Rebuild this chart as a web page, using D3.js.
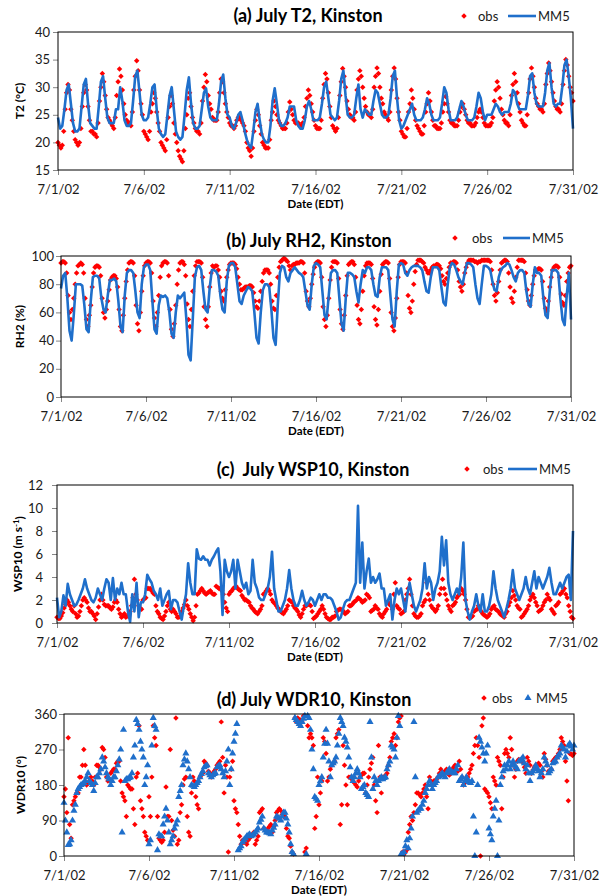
<!DOCTYPE html>
<html>
<head>
<meta charset="utf-8">
<script src="https://cdn.jsdelivr.net/npm/d3@7"></script>
<style>
  body { margin: 0; background: #fff; }
  svg { display: block; font-family: Lato, "Open Sans", sans-serif; }
</style>
</head>
<body>
<div id="chart"></div>
<script>
const width = 605;
const height = 896;

// time axis: 7/1/02 00:00 EDT to 7/31/02 00:00 EDT
const startDate = new Date(2002, 6, 1);
const endDate = new Date(2002, 6, 31);
const tickDays = [1, 6, 11, 16, 21, 26, 31];

// obs: 2-hourly samples (0,2,...,22 h per row), MM5 lines: 3-hourly (0,3,...,21 h per row)
const obsStep = 2;
const mm5LineStep = 3;
const mm5DirStep = 2;

const t2Obs = [
  [20, 19.5, 19, 19.5, 22, 26, 29, 30.5, 29.5, 26, 24, 22],
  [20.5, 20, 19.5, 20, 22.5, 26.5, 29, 30.5, 29.5, 26.5, 24, 22],
  [22, 21.5, 21.5, 21, 23.5, 27.5, 30, 32.5, 31, 28.5, 26, 24.5],
  [24, 23.5, 23, 22.5, 24.5, 28.5, 31, 33.3, 32, 29.5, 27, 25],
  [24, 23.5, 23.5, 23, 25.5, 29.5, 32, 34.8, 33, 29.5, 27, 25],
  [22, 21.5, 21, 20.5, 22, 25.5, 27, 29, 28, 25.5, 23.5, 22],
  [20, 19.5, 19, 18.5, 20.5, 24.5, 26.5, 28.5, 27, 23.5, 21.5, 20],
  [18.5, 17.5, 17, 16.5, 18.5, 22.5, 25, 28, 29, 26.5, 24.5, 23.5],
  [22.5, 22, 22, 21.5, 23.5, 27.5, 30, 32.3, 31, 28.5, 27, 26],
  [24.5, 24, 24, 24, 25.5, 29, 31.5, 31, 29, 27, 25.5, 24.5],
  [23.5, 23, 23, 22.5, 23, 24, 24.5, 24.5, 24, 23.5, 23, 22],
  [20, 19, 18.5, 17.5, 19, 22, 24, 26, 25, 23, 21.5, 20],
  [19.5, 19, 19, 19, 20.5, 24, 25.5, 27.5, 26.5, 25, 24, 23.5],
  [23, 22.5, 22.5, 22.5, 23.5, 25.5, 27.3, 26, 25, 24, 23.5, 23.5],
  [23.5, 23, 23, 23.5, 24.5, 26.5, 28, 29.5, 28.5, 27, 25.5, 24],
  [23, 22.5, 22.5, 22.5, 24, 28, 30.5, 32.5, 31.5, 29, 26.5, 24.5],
  [23, 22.5, 22, 22.5, 24.5, 28.5, 31, 33.4, 32, 30, 27.5, 26],
  [25, 24.5, 24.5, 24, 25.5, 29.5, 31.5, 33, 32, 30, 28, 26.5],
  [25.5, 25, 25, 24.5, 26, 30, 32, 33.5, 32.5, 30, 28, 27],
  [25.5, 25, 24.5, 24, 25.5, 29.5, 32, 33.5, 31.5, 28, 25.5, 24],
  [22, 21.5, 21, 21, 22.5, 25.5, 27, 29.5, 28, 26, 24, 23],
  [22.5, 22, 21.5, 21.5, 23, 25.5, 27, 29, 27.5, 25.5, 24, 23],
  [23, 22.5, 22.5, 22.5, 23.5, 25.5, 27, 28.3, 27, 25.5, 24, 23.5],
  [23.5, 23, 23, 23, 24, 25.5, 26.5, 27, 26, 25, 24, 23.5],
  [23.5, 23, 23, 23, 23.5, 24.5, 25.5, 26, 25.5, 24.5, 23.5, 23],
  [23, 23, 23, 23.5, 24.5, 27.5, 29.5, 31, 30, 28, 26, 25],
  [24, 23.5, 23.5, 23, 25, 28.5, 30.5, 32.5, 31, 29, 27, 25.5],
  [24, 23.5, 23, 23, 25, 29, 31.5, 33.5, 32, 30, 28, 27],
  [26.5, 26, 26, 25.5, 27, 30.5, 32.5, 34.4, 33, 31, 29, 27.5],
  [26.5, 26, 26, 25.5, 27, 30.5, 33, 35, 34, 32, 30, 29],
  [27.5]
].flat();

const t2Mm5 = [
  [24.5, 22.5, 23, 26, 29.5, 30.5, 27, 23.5],
  [22, 22, 22.5, 26.5, 30.5, 31.5, 27, 23.5],
  [23, 22.5, 22.5, 26.5, 31, 32, 28, 24.5],
  [23.5, 23.5, 23.5, 26, 26, 30, 27.5, 24],
  [23, 23, 23.5, 27.5, 32, 33, 29, 25],
  [24, 24, 24.5, 27, 30, 30.5, 26, 22.5],
  [21.5, 21, 21.5, 25, 28.5, 30, 26, 22],
  [21, 20.5, 21, 25, 29.5, 31.8, 27, 23.5],
  [22.5, 22.5, 23, 26, 29, 29.8, 26.5, 24.5],
  [24, 24, 24, 27, 31, 32.3, 28, 25],
  [24.5, 23, 22.5, 23.5, 25, 25.5, 24, 22],
  [20.5, 19.5, 19, 22, 25.5, 27, 24, 21.5],
  [20.5, 20, 20, 23, 27.5, 29.8, 27, 24],
  [23, 23, 23.5, 24.5, 26.5, 26.5, 26.5, 24],
  [23, 22.5, 22.5, 24, 26.5, 27.5, 26, 24],
  [24, 24, 24.5, 27, 30, 31, 28, 25],
  [24.5, 24, 24.5, 27.5, 31.5, 33, 28.5, 25],
  [24.5, 24.5, 25, 28, 30.5, 26, 24.5, 26],
  [25.5, 25, 25, 27.5, 29.5, 29, 27, 25],
  [24.5, 24.5, 25, 28, 32, 33, 28, 24],
  [22.5, 23, 24, 25, 26, 27, 25, 24],
  [24, 24, 24.5, 26, 28, 27, 25, 24],
  [24, 24, 24.5, 27, 30, 29, 26, 24],
  [24, 24, 24.5, 26, 27.5, 26.5, 25, 24],
  [24, 24, 24.5, 26.5, 29, 28, 25.5, 24],
  [25, 25, 25, 26, 27, 26.5, 25.5, 25],
  [25.5, 25.5, 25.5, 27, 29.5, 29, 27, 26],
  [26, 26, 26, 28.5, 32, 32.5, 29, 27],
  [26.5, 26.5, 26.5, 29, 33, 34.4, 30, 27],
  [26.5, 27, 27, 30, 34, 35, 32, 28],
  [22.5]
].flat();

const rh2Obs = [
  [95, 96, 96, 95, 88, 72, 60, 55, 62, 70, 80, 88],
  [93, 94, 95, 94, 88, 70, 55, 50, 58, 65, 78, 88],
  [92, 93, 93, 92, 86, 70, 60, 56, 62, 68, 76, 83],
  [85, 86, 86, 84, 78, 62, 50, 47, 58, 70, 82, 90],
  [95, 96, 96, 95, 86, 65, 52, 47, 60, 75, 86, 93],
  [95, 96, 96, 95, 88, 68, 56, 50, 60, 72, 85, 93],
  [95, 96, 96, 95, 86, 62, 48, 43, 52, 65, 80, 90],
  [95, 96, 96, 94, 86, 66, 55, 50, 62, 75, 86, 93],
  [96, 96, 96, 95, 85, 64, 55, 50, 64, 78, 88, 93],
  [92, 93, 93, 90, 85, 75, 70, 68, 76, 85, 90, 94],
  [95, 95, 95, 94, 91, 85, 80, 76, 76, 77, 78, 78],
  [78, 79, 79, 78, 74, 68, 64, 63, 68, 75, 82, 88],
  [90, 90, 90, 88, 80, 68, 63, 62, 72, 85, 92, 96],
  [97, 98, 98, 97, 96, 93, 90, 93, 94, 94, 95, 95],
  [95, 96, 96, 95, 88, 75, 68, 64, 70, 80, 87, 92],
  [95, 96, 96, 95, 85, 64, 55, 50, 58, 70, 83, 92],
  [96, 96, 96, 95, 84, 62, 52, 48, 58, 72, 86, 94],
  [95, 96, 96, 94, 85, 65, 55, 52, 62, 75, 86, 93],
  [95, 95, 95, 94, 84, 64, 55, 51, 62, 75, 87, 94],
  [95, 96, 96, 95, 84, 60, 50, 47, 56, 70, 85, 94],
  [96, 96, 96, 95, 88, 72, 63, 60, 68, 80, 89, 94],
  [97, 97, 97, 96, 95, 92, 90, 88, 88, 90, 92, 93],
  [93, 94, 94, 93, 91, 86, 82, 80, 84, 88, 92, 95],
  [95, 96, 96, 95, 90, 82, 78, 75, 80, 88, 92, 95],
  [97, 97, 97, 97, 96, 96, 95, 96, 96, 97, 97, 97],
  [97, 97, 97, 96, 90, 80, 72, 68, 74, 82, 90, 95],
  [96, 97, 97, 96, 88, 78, 70, 67, 75, 85, 92, 97],
  [97, 97, 97, 96, 88, 76, 68, 65, 72, 80, 86, 90],
  [90, 91, 91, 90, 82, 70, 63, 61, 68, 78, 85, 90],
  [92, 93, 93, 92, 85, 73, 67, 65, 72, 82, 88, 92],
  [93]
].flat();

const rh2Mm5 = [
  [77, 86, 88, 70, 47, 40, 58, 80],
  [80, 80, 79, 65, 48, 46, 68, 85],
  [86, 86, 84, 70, 62, 60, 72, 83],
  [83, 84, 82, 68, 50, 46, 72, 88],
  [90, 90, 88, 75, 60, 56, 80, 92],
  [94, 94, 90, 68, 48, 45, 65, 72],
  [71, 72, 70, 60, 45, 42, 60, 72],
  [70, 72, 74, 55, 30, 26, 55, 85],
  [92, 93, 90, 75, 62, 60, 78, 90],
  [90, 89, 86, 72, 62, 60, 82, 93],
  [95, 95, 92, 80, 68, 66, 72, 75],
  [78, 77, 75, 60, 42, 38, 60, 76],
  [80, 80, 78, 62, 42, 37, 65, 88],
  [93, 92, 85, 82, 88, 90, 92, 90],
  [88, 87, 85, 75, 65, 62, 80, 93],
  [95, 94, 92, 75, 58, 55, 72, 88],
  [90, 90, 88, 70, 52, 47, 70, 88],
  [88, 87, 85, 75, 67, 80, 90, 88],
  [92, 92, 90, 80, 72, 71, 85, 92],
  [92, 92, 90, 72, 55, 50, 75, 94],
  [95, 94, 88, 86, 90, 92, 93, 93],
  [93, 92, 90, 82, 75, 74, 85, 92],
  [92, 92, 90, 78, 67, 65, 80, 92],
  [95, 94, 90, 85, 82, 80, 88, 95],
  [95, 94, 92, 80, 70, 66, 80, 93],
  [93, 92, 90, 82, 76, 75, 85, 90],
  [92, 93, 95, 94, 90, 85, 82, 88],
  [90, 90, 88, 75, 66, 64, 80, 92],
  [88, 88, 86, 70, 58, 56, 75, 90],
  [90, 90, 88, 70, 55, 51, 72, 88],
  [55]
].flat();

const wsp10Obs = [
  [0.5, 0.4, 0.4, 0.6, 0.9, 1.3, 1.6, 2.0, 1.8, 1.5, 1.2, 1.0],
  [1.5, 0.8, 0.5, 0.6, 1.0, 1.5, 2.0, 2.2, 2.0, 1.8, 1.3, 1.0],
  [1.0, 0.8, 0.6, 0.3, 0.8, 1.4, 2.0, 2.5, 2.0, 1.6, 1.5, 1.5],
  [1.5, 1.3, 1.2, 1.4, 1.8, 2.0, 1.8, 1.2, 0.8, 0.5, 0.6, 0.8],
  [0.5, 0.6, 0.6, 1.0, 1.5, 2.2, 3.8, 2.5, 2.0, 1.5, 1.3, 1.2],
  [2.0, 2.1, 2.2, 3.0, 3.0, 3.0, 2.8, 2.6, 2.5, 1.5, 1.0, 0.8],
  [0.5, 0.4, 0.3, 0.6, 1.0, 1.5, 1.8, 1.2, 1.0, 1.2, 1.0, 0.8],
  [0.5, 0.5, 0.6, 1.0, 1.3, 1.6, 2.0, 1.5, 1.2, 0.8, 0.5, 0.2],
  [0.5, 1.5, 2.5, 2.6, 2.8, 3.0, 2.8, 2.6, 2.5, 2.6, 2.7, 2.8],
  [2.6, 2.5, 2.5, 3.2, 3.1, 3.0, 3.0, 2.8, 2.5, 1.8, 1.3, 1.0],
  [2.5, 2.7, 2.8, 3.0, 3.1, 3.2, 3.0, 2.9, 2.8, 2.4, 2.2, 2.0],
  [2.0, 1.9, 1.8, 1.5, 1.3, 1.2, 1.0, 0.9, 0.8, 1.0, 1.2, 1.5],
  [2.5, 2.6, 2.8, 3.0, 2.8, 2.5, 2.0, 1.8, 1.7, 1.5, 1.3, 1.2],
  [1.0, 0.9, 0.8, 1.0, 1.2, 1.5, 2.0, 1.9, 1.8, 1.5, 1.3, 1.2],
  [1.0, 0.7, 0.5, 0.8, 1.2, 1.5, 1.5, 1.6, 1.6, 1.5, 1.0, 0.4],
  [0.5, 0.6, 0.8, 1.0, 1.2, 1.5, 1.2, 0.8, 0.5, 0.4, 0.3, 0.3],
  [0.5, 0.5, 0.6, 1.0, 1.1, 1.2, 1.2, 1.1, 1.0, 0.8, 0.9, 1.0],
  [1.5, 1.5, 1.6, 1.8, 1.9, 2.0, 2.2, 2.1, 2.0, 1.8, 1.9, 2.0],
  [2.5, 2.4, 2.2, 1.0, 1.1, 1.2, 1.5, 1.3, 1.2, 0.8, 0.6, 0.5],
  [0.8, 1.0, 1.2, 1.8, 1.6, 1.5, 1.2, 2.5, 3.5, 1.5, 1.3, 1.2],
  [0.8, 0.9, 1.0, 2.0, 2.5, 3.0, 3.8, 2.5, 1.5, 0.8, 0.6, 0.5],
  [0.5, 0.6, 0.8, 1.5, 1.8, 2.0, 3.5, 2.5, 2.0, 1.5, 1.3, 1.2],
  [1.0, 1.2, 1.5, 2.5, 3.0, 3.8, 3.0, 2.5, 2.0, 1.5, 1.2, 1.0],
  [1.5, 1.6, 1.8, 2.2, 2.4, 2.5, 3.0, 2.8, 2.5, 2.0, 1.2, 0.5],
  [0.5, 0.5, 0.6, 1.0, 1.1, 1.2, 1.5, 1.2, 1.0, 0.8, 0.7, 0.6],
  [0.5, 0.6, 0.8, 1.2, 1.4, 1.5, 1.2, 1.1, 1.0, 0.8, 0.7, 0.6],
  [0.5, 0.8, 1.0, 1.5, 1.8, 2.2, 2.8, 2.4, 2.0, 1.5, 1.3, 1.2],
  [0.5, 0.6, 0.8, 1.0, 1.2, 1.5, 2.0, 2.3, 2.5, 2.2, 1.8, 1.5],
  [1.0, 1.1, 1.2, 1.5, 1.8, 2.0, 2.5, 2.2, 2.0, 1.2, 1.0, 0.8],
  [1.5, 1.6, 1.8, 2.5, 2.6, 2.8, 3.0, 2.5, 2.2, 1.5, 1.0, 0.5],
  [0.4]
].flat();

const wsp10Mm5 = [
  [2.2, 0.5, 1.0, 2.4, 1.5, 3.4, 2.5, 2.0],
  [1.5, 1.6, 2.0, 2.5, 3.0, 3.8, 3.0, 2.5],
  [2.0, 1.8, 2.2, 3.0, 2.5, 2.0, 3.0, 3.8],
  [3.5, 2.0, 3.9, 2.0, 3.0, 2.5, 3.5, 2.5],
  [2.5, 1.0, 0.1, 2.5, 1.0, 3.5, 0.5, 1.8],
  [1.8, 2.5, 4.2, 3.8, 3.5, 2.8, 2.5, 2.0],
  [3.0, 1.5, 2.0, 2.5, 2.8, 1.2, 2.0, 2.0],
  [1.8, 1.0, 0.3, 1.5, 2.5, 5.2, 3.5, 2.5],
  [2.5, 6.4, 5.6, 5.5, 5.8, 5.5, 5.5, 5.0],
  [5.5, 5.8, 6.2, 6.5, 4.5, 0.7, 5.5, 4.5],
  [4.0, 4.5, 5.5, 3.0, 5.5, 4.5, 3.5, 3.0],
  [3.5, 2.5, 2.8, 5.5, 3.5, 3.0, 2.2, 2.0],
  [2.0, 2.5, 3.0, 4.0, 6.2, 3.0, 2.0, 1.0],
  [1.0, 1.5, 2.0, 3.0, 4.6, 3.0, 2.0, 1.5],
  [1.5, 2.0, 2.8, 2.0, 1.5, 1.8, 2.2, 2.0],
  [1.5, 2.0, 2.5, 2.0, 2.5, 2.5, 2.2, 2.2],
  [2.0, 1.5, 1.0, 0.3, 0.5, 1.2, 1.8, 2.0],
  [2.0, 2.5, 3.0, 3.5, 10.2, 3.5, 7.0, 3.0],
  [4.5, 5.6, 3.5, 4.0, 3.5, 3.8, 4.3, 3.0],
  [3.0, 1.5, 2.0, 2.5, 0.3, 2.0, 3.0, 2.5],
  [3.0, 2.0, 1.0, 2.5, 3.5, 2.5, 1.5, 1.0],
  [1.5, 2.0, 3.0, 5.2, 3.0, 4.0, 3.5, 2.0],
  [3.0, 3.5, 4.5, 7.5, 5.0, 7.2, 3.5, 2.5],
  [2.0, 2.5, 3.0, 2.5, 4.0, 7.0, 2.0, 1.0],
  [0.3, 1.0, 1.5, 2.5, 1.5, 1.0, 2.5, 1.0],
  [1.0, 1.5, 2.5, 4.5, 3.0, 2.0, 1.5, 1.0],
  [0.5, 1.2, 2.0, 3.0, 4.6, 3.0, 2.5, 2.0],
  [2.5, 3.0, 4.0, 3.0, 2.5, 3.5, 4.5, 3.0],
  [4.0, 3.5, 3.0, 3.5, 4.0, 4.8, 3.5, 2.5],
  [2.5, 3.0, 3.5, 3.0, 3.5, 4.0, 4.2, 2.0],
  [8.0]
].flat();

const wdr10Obs = [
  [150, 170, 110, 300, 80, 45, 130, 140, 150, 160, 160, 200],
  [200, 230, 270, 230, 180, 185, 190, 200, 190, 180, 200, 230],
  [230, 225, 220, 275, 270, 250, 200, 190, 195, 210, 215, 220],
  [220, 235, 240, 240, 190, 160, 150, 140, 100, 180, 175, 170],
  [170, 120, 80, 200, 210, 330, 140, 120, 100, 60, 50, 40],
  [150, 100, 200, 330, 300, 280, 100, 45, 40, 35, 40, 60],
  [175, 100, 100, 270, 90, 65, 50, 350, 30, 40, 110, 130],
  [180, 195, 200, 100, 60, 50, 160, 200, 190, 150, 130, 120],
  [200, 205, 210, 240, 235, 230, 215, 210, 200, 210, 215, 220],
  [230, 235, 240, 340, 250, 160, 230, 200, 10, 200, 220, 240],
  [140, 120, 110, 80, 50, 30, 40, 35, 35, 30, 40, 45],
  [50, 55, 60, 30, 40, 50, 110, 115, 120, 70, 68, 65],
  [70, 75, 80, 60, 75, 90, 110, 115, 120, 115, 105, 100],
  [100, 70, 50, 45, 25, 10, 5, 350, 340, 350, 345, 345],
  [340, 355, 10, 20, 330, 300, 310, 300, 280, 70, 100, 200],
  [130, 160, 190, 300, 290, 260, 190, 200, 220, 230, 235, 240],
  [300, 310, 320, 80, 130, 280, 230, 180, 130, 200, 200, 195],
  [190, 185, 180, 175, 190, 200, 205, 210, 210, 160, 180, 200],
  [220, 235, 250, 180, 140, 110, 280, 200, 160, 200, 200, 205],
  [210, 230, 250, 290, 300, 310, 280, 300, 340, 350, 355, 10],
  [5, 10, 15, 60, 80, 100, 90, 110, 130, 160, 160, 155],
  [150, 160, 170, 180, 150, 120, 200, 190, 180, 190, 190, 195],
  [200, 210, 220, 210, 212, 215, 220, 210, 205, 210, 218, 225],
  [230, 220, 215, 240, 220, 200, 180, 185, 190, 200, 210, 220],
  [230, 260, 280, 300, 280, 250, 0, 330, 350, 170, 165, 160],
  [150, 135, 120, 200, 190, 180, 250, 240, 230, 120, 200, 260],
  [270, 260, 250, 300, 270, 230, 200, 220, 240, 245, 242, 240],
  [240, 225, 210, 250, 240, 230, 210, 218, 225, 230, 232, 235],
  [230, 215, 200, 260, 245, 230, 215, 218, 220, 240, 245, 250],
  [250, 260, 270, 300, 290, 280, 240, 190, 140, 260, 258, 255],
  [260]
].flat();

const wdr10Mm5 = [
  [135, 90, 60, 28, 30, 40, 90, 115, 130, 160, 170, 175],
  [180, 182, 185, 190, 200, 210, 190, 185, 180, 165, 185, 200],
  [200, 210, 220, 250, 240, 225, 210, 200, 195, 180, 190, 200],
  [200, 215, 230, 245, 270, 60, 320, 190, 195, 195, 198, 200],
  [210, 250, 280, 345, 335, 320, 290, 270, 250, 180, 200, 230],
  [30, 40, 280, 350, 330, 320, 15, 55, 50, 50, 80, 100],
  [120, 90, 60, 30, 40, 50, 70, 80, 90, 150, 165, 180],
  [230, 245, 260, 240, 220, 200, 180, 178, 175, 180, 185, 190],
  [200, 208, 215, 225, 228, 230, 210, 205, 200, 205, 208, 210],
  [225, 228, 230, 220, 210, 200, 215, 240, 270, 180, 220, 260],
  [290, 310, 335, 15, 20, 25, 35, 40, 45, 50, 52, 55],
  [50, 52, 55, 60, 65, 70, 85, 92, 100, 70, 65, 60],
  [60, 58, 55, 65, 72, 80, 100, 98, 95, 90, 100, 110],
  [110, 95, 80, 60, 30, 10, 5, 350, 345, 340, 335, 330],
  [340, 348, 355, 5, 355, 350, 320, 270, 220, 150, 145, 140],
  [180, 190, 200, 250, 285, 320, 285, 240, 200, 230, 235, 240],
  [250, 280, 310, 350, 340, 330, 300, 290, 275, 250, 225, 200],
  [190, 200, 210, 220, 210, 200, 170, 175, 180, 160, 155, 150],
  [340, 250, 170, 200, 190, 180, 190, 195, 200, 195, 198, 200],
  [220, 230, 240, 280, 275, 270, 250, 300, 355, 330, 5, 5],
  [10, 25, 40, 20, 45, 70, 100, 340, 200, 110, 115, 120],
  [120, 130, 140, 160, 170, 180, 190, 180, 170, 180, 185, 190],
  [200, 202, 205, 210, 205, 200, 210, 215, 220, 215, 212, 210],
  [210, 220, 230, 190, 195, 200, 180, 190, 200, 190, 188, 185],
  [190, 100, 0, 60, 180, 300, 290, 275, 260, 240, 260, 280],
  [70, 55, 40, 100, 120, 140, 0, 90, 180, 200, 215, 230],
  [220, 230, 240, 220, 230, 240, 230, 225, 220, 240, 242, 245],
  [250, 235, 220, 230, 210, 190, 210, 215, 220, 230, 222, 215],
  [200, 210, 220, 250, 240, 230, 210, 215, 220, 235, 238, 240],
  [250, 255, 260, 280, 275, 270, 250, 265, 280, 285, 278, 270],
  [280]
].flat();

const panels = [
  {
    title: "(a) July T2, Kinston", titleX: 308, titleY: 22,
    left: 58, right: 573, top: 32, bottom: 170,
    yDomain: [15, 40], yTicks: [15, 20, 25, 30, 35, 40], yPad: 3,
    yLabel: ["T2 (°C)"], yLabelX: 20,
    obs: t2Obs, mm5: t2Mm5, mm5Mode: "line", mm5Step: mm5LineStep,
    legend: { y: 16, diamond: 464, obs: 478, line: [508, 536], mm5: 538 }
  },
  {
    title: "(b) July RH2, Kinston", titleX: 309, titleY: 247,
    left: 61, right: 571, top: 256, bottom: 397,
    yDomain: [0, 100], yTicks: [0, 20, 40, 60, 80, 100], yPad: 2,
    yLabel: ["RH2 (%)"], yLabelX: 20,
    obs: rh2Obs, mm5: rh2Mm5, mm5Mode: "line", mm5Step: mm5LineStep,
    legend: { y: 238, diamond: 455, obs: 472, line: [503, 530], mm5: 532 }
  },
  {
    title: "(c)  July WSP10, Kinston", titleX: 313, titleY: 476,
    left: 57, right: 573, top: 485, bottom: 623,
    yDomain: [0, 12], yTicks: [0, 2, 4, 6, 8, 10, 12], yPad: 9,
    yLabel: ["WSP10 (m s", "-1", ")"], yLabelX: 18,
    obs: wsp10Obs, mm5: wsp10Mm5, mm5Mode: "line", mm5Step: mm5LineStep,
    legend: { y: 469, diamond: 467, obs: 483, line: [508, 537], mm5: 539 }
  },
  {
    title: "(d) July WDR10, Kinston", titleX: 314, titleY: 706,
    left: 64, right: 574, top: 714, bottom: 856,
    yDomain: [0, 360], yTicks: [0, 90, 180, 270, 360], yPad: 2,
    yLabel: ["WDR10 (°)"], yLabelX: 21,
    obs: wdr10Obs, mm5: wdr10Mm5, mm5Mode: "triangle", mm5Step: mm5DirStep,
    legend: { y: 698, diamond: 484, obs: 492, triangle: 528, mm5: 536 }
  }
];

const obsColor = "#ff0000";
const mm5Color = "#1f6fcb";
const tickColor = "#868686";
const textColor = "#1a1a1a";
const dateFormat = d3.timeFormat("%-m/%-d/%y");
const tickDates = tickDays.map(d => new Date(2002, 6, d));

const svg = d3.select("#chart")
  .append("svg")
  .attr("width", width)
  .attr("height", height);

const diamond = d3.symbol(d3.symbolDiamond2 || d3.symbolDiamond, 19);
const triangle = d3.symbol(d3.symbolTriangle, 22);

function sampleTime(i, step) {
  return d3.timeHour.offset(startDate, i * step);
}

function drawPanel(p) {
  const x = d3.scaleTime().domain([startDate, endDate]).range([p.left, p.right]);
  const y = d3.scaleLinear().domain(p.yDomain).range([p.bottom, p.top]);
  const g = svg.append("g");

  // y axis
  const yAxis = g.append("g")
    .attr("transform", `translate(${p.left},0)`)
    .call(d3.axisLeft(y).tickValues(p.yTicks).tickSize(5).tickSizeOuter(0).tickPadding(p.yPad));
  yAxis.select(".domain").remove();
  yAxis.selectAll(".tick line").attr("stroke", tickColor);
  yAxis.selectAll(".tick text")
    .attr("fill", textColor)
    .style("font-size", "13px")
    .style("font-family", "Lato, sans-serif");

  // x axis
  const xAxis = g.append("g")
    .attr("transform", `translate(0,${p.bottom})`)
    .call(d3.axisBottom(x).tickValues(tickDates).tickFormat(dateFormat)
      .tickSize(5).tickSizeOuter(0).tickPadding(10));
  xAxis.select(".domain").remove();
  xAxis.selectAll(".tick line").attr("stroke", tickColor);
  xAxis.selectAll(".tick text")
    .attr("fill", textColor)
    .style("font-size", "13px")
    .style("font-family", "Lato, sans-serif");

  // obs markers
  g.append("g")
    .selectAll("path")
    .data(p.obs.map((v, i) => ({ t: sampleTime(i, obsStep), v })))
    .join("path")
    .attr("transform", d => `translate(${x(d.t)},${y(d.v)})`)
    .attr("d", diamond)
    .attr("fill", obsColor);

  // MM5
  const mm5Data = p.mm5.map((v, i) => ({ t: sampleTime(i, p.mm5Step), v }));
  if (p.mm5Mode === "line") {
    g.append("path")
      .datum(mm5Data)
      .attr("fill", "none")
      .attr("stroke", mm5Color)
      .attr("stroke-width", 2.6)
      .attr("stroke-linejoin", "round")
      .attr("d", d3.line().x(d => x(d.t)).y(d => y(d.v)));
  } else {
    g.append("g")
      .selectAll("path")
      .data(mm5Data)
      .join("path")
      .attr("transform", d => `translate(${x(d.t)},${y(d.v)})`)
      .attr("d", triangle)
      .attr("fill", mm5Color);
  }

  // plot border
  g.append("rect")
    .attr("x", p.left)
    .attr("y", p.top)
    .attr("width", p.right - p.left)
    .attr("height", p.bottom - p.top)
    .attr("fill", "none")
    .attr("stroke", "#000")
    .attr("stroke-width", 1);

  // title
  g.append("text")
    .attr("x", p.titleX)
    .attr("y", p.titleY)
    .attr("text-anchor", "middle")
    .style("font-size", "18px")
    .style("font-weight", "bold")
    .style("white-space", "pre")
    .attr("fill", "#000")
    .text(p.title);

  // y label
  const yl = g.append("text")
    .attr("transform", `translate(${p.yLabelX},${(p.top + p.bottom) / 2}) rotate(-90)`)
    .attr("text-anchor", "middle")
    .attr("dy", "0.35em")
    .style("font-size", "12px")
    .style("font-weight", "bold")
    .attr("fill", "#000");
  yl.append("tspan").text(p.yLabel[0]);
  if (p.yLabel.length > 1) {
    yl.append("tspan").attr("dy", "-0.4em").style("font-size", "8px").text(p.yLabel[1]);
    yl.append("tspan").attr("dy", "0.4em").text(p.yLabel[2]);
  }

  // x label
  g.append("text")
    .attr("x", (p.left + p.right) / 2)
    .attr("y", p.bottom + 38)
    .attr("text-anchor", "middle")
    .style("font-size", "11.5px")
    .style("font-weight", "bold")
    .attr("fill", "#000")
    .text("Date (EDT)");

  // legend
  const L = p.legend;
  g.append("path")
    .attr("transform", `translate(${L.diamond},${L.y})`)
    .attr("d", diamond)
    .attr("fill", obsColor);
  g.append("text")
    .attr("x", L.obs).attr("y", L.y).attr("dy", "0.35em")
    .style("font-size", "13px").attr("fill", textColor)
    .text("obs");
  if (L.line) {
    g.append("line")
      .attr("x1", L.line[0]).attr("x2", L.line[1])
      .attr("y1", L.y).attr("y2", L.y)
      .attr("stroke", mm5Color).attr("stroke-width", 2.6);
  } else {
    g.append("path")
      .attr("transform", `translate(${L.triangle},${L.y})`)
      .attr("d", triangle)
      .attr("fill", mm5Color);
  }
  g.append("text")
    .attr("x", L.mm5).attr("y", L.y).attr("dy", "0.35em")
    .style("font-size", "13px").attr("fill", textColor)
    .text("MM5");
}

panels.forEach(drawPanel);
</script>
</body>
</html>
